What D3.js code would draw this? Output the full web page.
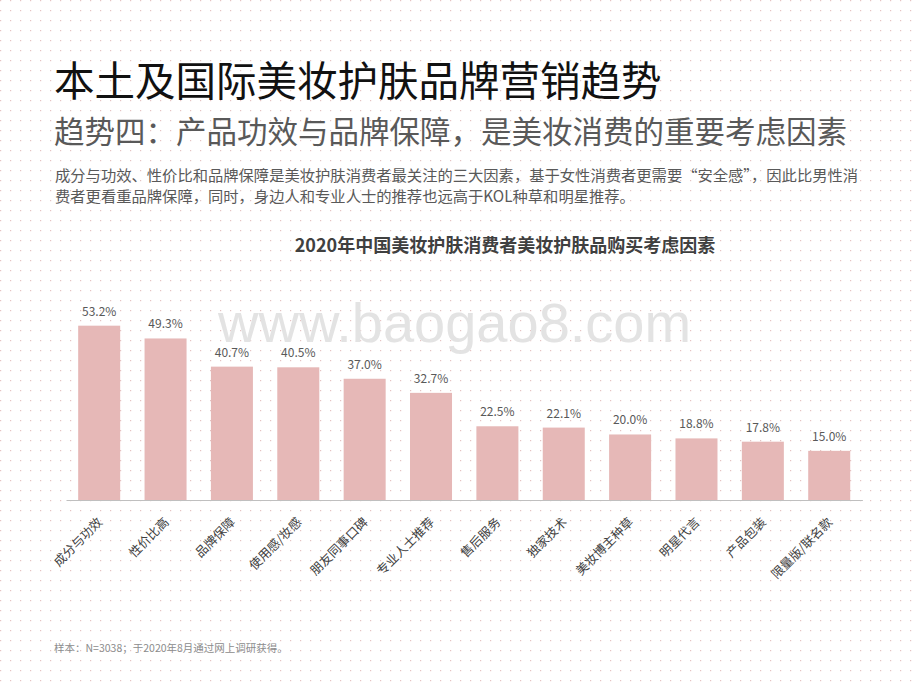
<!DOCTYPE html>
<html>
<head>
<meta charset="utf-8">
<script src="https://cdn.jsdelivr.net/npm/d3@7/dist/d3.min.js"></script>
<style>
  html, body { margin: 0; padding: 0; background: #fff; }
  svg { display: block; }
  text { font-family: "Noto Sans CJK SC", "Noto Sans", sans-serif; }
</style>
</head>
<body>
<svg id="chart" width="920" height="690"></svg>
<script>
const categories = ["成分与功效", "性价比高", "品牌保障", "使用感/妆感", "朋友同事口碑", "专业人士推荐",
  "售后服务", "独家技术", "美妆博主种草", "明星代言", "产品包装", "限量版/联名款"];
const values = [53.2, 49.3, 40.7, 40.5, 37.0, 32.7, 22.5, 22.1, 20.0, 18.8, 17.8, 15.0];
const valueLabels = ["53.2%", "49.3%", "40.7%", "40.5%", "37.0%", "32.7%", "22.5%", "22.1%", "20.0%", "18.8%", "17.8%", "15.0%"];

const pageTitle = "本土及国际美妆护肤品牌营销趋势";
const pageSubtitle = "趋势四：产品功效与品牌保障，是美妆消费的重要考虑因素";
const bodyLines = ["成分与功效、性价比和品牌保障是美妆护肤消费者最关注的三大因素，基于女性消费者更需要“安全感”，因此比男性消",
  "费者更看重品牌保障，同时，身边人和专业人士的推荐也远高于KOL种草和明星推荐。"];
const chartTitle = "2020年中国美妆护肤消费者美妆护肤品购买考虑因素";
const footnote = "样本：N=3038；于2020年8月通过网上调研获得。";
const watermark = "www.baogao8.com";

const svg = d3.select("#chart");
const W = 920, H = 690;

// dotted background
const defs = svg.append("defs");
const pat = defs.append("pattern").attr("id", "dots").attr("width", 10).attr("height", 10)
  .attr("patternUnits", "userSpaceOnUse");
pat.append("rect").attr("x", 0).attr("y", 0).attr("width", 10).attr("height", 10).attr("fill", "#fff");
pat.append("rect").attr("x", 0).attr("y", 0).attr("width", 1.2).attr("height", 1.2).attr("fill", "#e6c2c2");
svg.append("rect").attr("width", W).attr("height", H).attr("fill", "url(#dots)");

// header texts
svg.append("text").attr("x", 54).attr("y", 96).attr("font-size", 40.5).attr("fill", "#111")
  .text(pageTitle);
svg.append("text").attr("x", 54).attr("y", 143).attr("font-size", 30.5).attr("fill", "#595959")
  .text(pageSubtitle);
bodyLines.forEach((t, i) => {
  svg.append("text").attr("x", 55).attr("y", 181 + i * 21).attr("font-size", 15.3).attr("fill", "#595959").text(t);
});

// watermark
svg.append("text").attr("x", 218).attr("y", 342).attr("font-size", 56)
  .style("font-family", "'Liberation Sans', Arial, sans-serif")
  .attr("fill", "#e3e3e3").text(watermark);

// chart title
svg.append("text").attr("x", 505).attr("y", 252).attr("text-anchor", "middle")
  .attr("font-size", 18).attr("font-weight", "bold").attr("fill", "#404040").text(chartTitle);

// scales
const x = d3.scaleBand().domain(categories).range([66, 862.4]).paddingInner(0.367).paddingOuter(0.1835);
const y = d3.scaleLinear().domain([0, 60]).range([500, 303.4]);

const g = svg.append("g");
g.selectAll("rect.bar").data(values).join("rect").attr("class", "bar")
  .attr("x", (d, i) => x(categories[i]))
  .attr("y", d => y(d))
  .attr("width", x.bandwidth())
  .attr("height", d => y(0) - y(d))
  .attr("fill", "#e6b8b7");

g.selectAll("text.val").data(values).join("text").attr("class", "val")
  .attr("x", (d, i) => x(categories[i]) + x.bandwidth() / 2)
  .attr("y", d => y(d) - 10)
  .attr("text-anchor", "middle").attr("font-size", 12).attr("fill", "#595959")
  .text((d, i) => valueLabels[i]);

// axis baseline + labels
const axis = d3.axisBottom(x).tickSize(0).tickPadding(0);
const ax = svg.append("g").attr("transform", `translate(0,${y(0)})`).call(axis);
ax.select(".domain").attr("stroke", "#bfbfbf").attr("stroke-width", 1);
ax.selectAll(".tick text")
  .attr("font-size", 12.5).attr("fill", "#404040")
  .style("font-family", "'Noto Sans CJK SC', sans-serif")
  .attr("text-anchor", "end")
  .attr("dy", 0).attr("y", 0)
  .attr("transform", "translate(4,23) rotate(-45)");

// footnote
svg.append("text").attr("x", 54).attr("y", 652).attr("font-size", 10.5).attr("fill", "#8c8c8c").text(footnote);
</script>
</body>
</html>
